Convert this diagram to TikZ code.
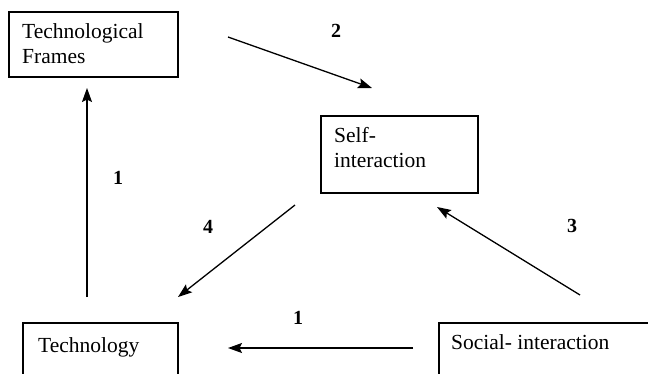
\documentclass[tikz,border=0pt]{standalone}
\usepackage{fontspec}
\setmainfont{Liberation Serif}
\usetikzlibrary{arrows.meta}
\begin{document}
\begin{tikzpicture}[x=1pt,y=-1pt,
  box/.style={draw=black, line width=1.5pt, rectangle, inner sep=0pt, anchor=north west},
  txt/.style={inner sep=0pt, anchor=base west, font=\fontsize{21.5}{25}\selectfont},
  num/.style={inner sep=0pt, font=\fontsize{20}{24}\selectfont\bfseries},
  arr/.style={line width=1.3pt, -{Stealth[length=14pt,width=10pt,inset=2.5pt]}}]
\useasboundingbox (0,0) rectangle (648,373);
\clip (0,0) rectangle (648,373);
% boxes
\node[box, minimum width=169pt, minimum height=65pt] (tf) at (8,11) {};
\node[box, minimum width=157pt, minimum height=77pt] (si) at (320,115) {};
\node[box, minimum width=155pt, minimum height=70pt] (tech) at (22,322) {};
\node[box, minimum width=240pt, minimum height=70pt] (soc) at (438,322) {};
% texts
\node[txt] (tf1) at (22,38) {Technological};
\node[txt] (tf2) at (22,63) {Frames};
\node[txt] (si1) at (334,142) {Self-};
\node[txt] (si2) at (334,167) {interaction};
\node[txt] (tech1) at (38,352) {Technology};
\node[txt] (soc1) at (451,349) {Social- interaction};
% connector ends
\coordinate (a2s) at (228,37);  \coordinate (a2e) at (372,88);
\coordinate (a1s) at (87,297);  \coordinate (a1e) at (87,88);
\coordinate (a4s) at (295,205); \coordinate (a4e) at (178,297);
\coordinate (a3s) at (580,295); \coordinate (a3e) at (437,207);
\coordinate (b1s) at (413,348); \coordinate (b1e) at (228,348);
\draw[arr] (a2s) -- (a2e);
\draw[arr] (a1s) -- (a1e);
\draw[arr] (a4s) -- (a4e);
\draw[arr] (a3s) -- (a3e);
\draw[arr] (b1s) -- (b1e);
% numbers
\node[num] (n2) at (336,31) {2};
\node[num] (n1a) at (118,178) {1};
\node[num] (n4) at (208,227) {4};
\node[num] (n3) at (572,226) {3};
\node[num] (n1b) at (298,318) {1};
\end{tikzpicture}
\end{document}
